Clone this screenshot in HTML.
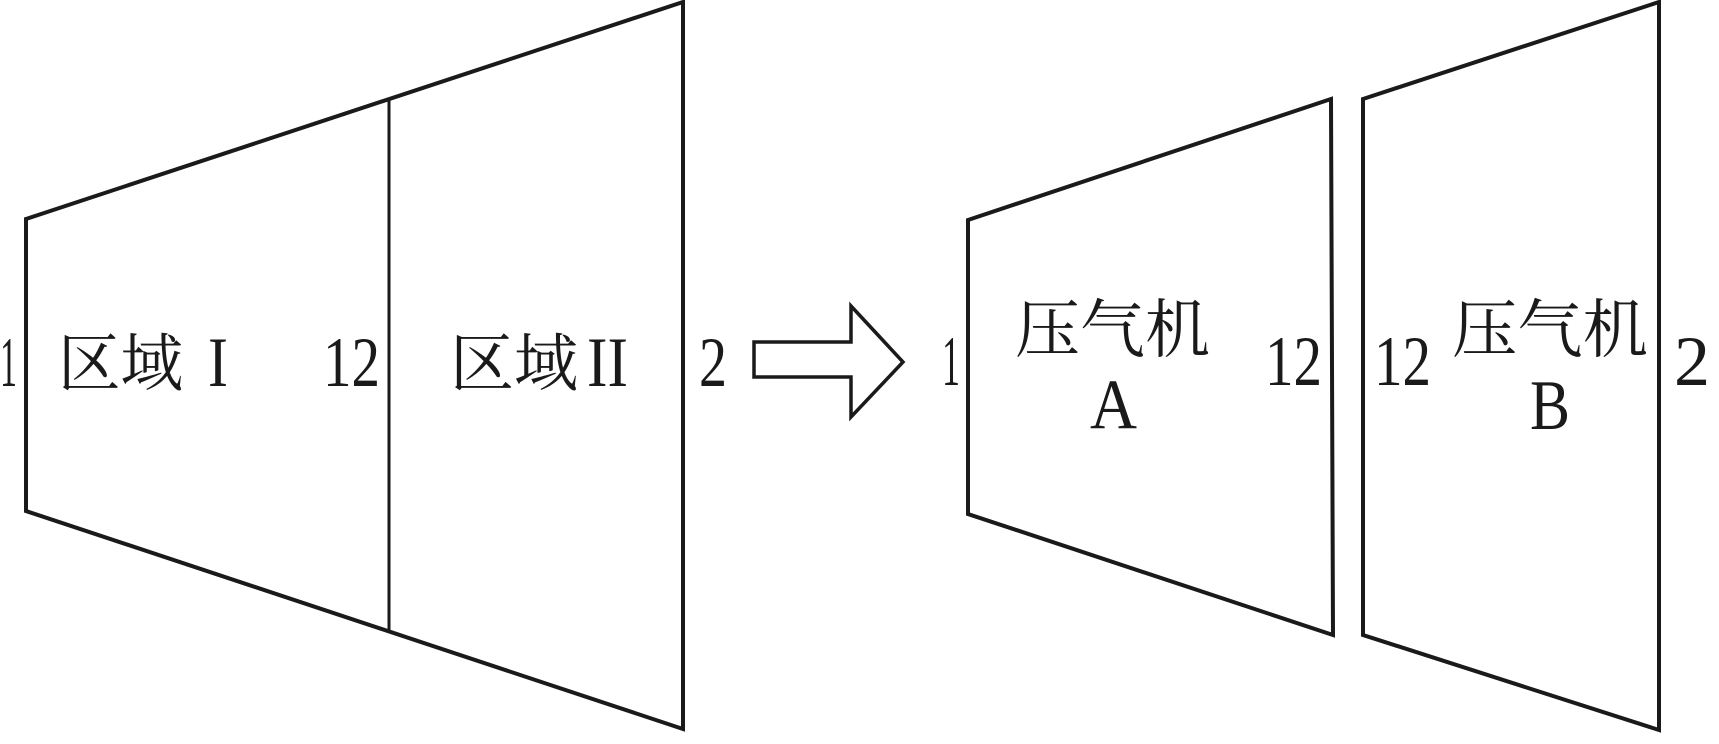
<!DOCTYPE html>
<html><head><meta charset="utf-8"><style>
html,body{margin:0;padding:0;background:#fff;width:1719px;height:744px;overflow:hidden}
text{font-family:"Liberation Serif","Noto Serif CJK SC",serif;fill:#1a1a1a}
</style></head><body>
<svg width="1719" height="744" viewBox="0 0 1719 744" xmlns="http://www.w3.org/2000/svg">
<g fill="none" stroke="#1a1a1a" stroke-width="4" stroke-linejoin="miter">
<polygon points="26,219 683,2 683,729 26,511"/>
<line x1="389" y1="99" x2="389" y2="630" stroke-width="3"/>
<polygon points="754,342 851,342 851,306 903,362 851,417 851,377 754,377" stroke-width="3.5"/>
<polygon points="968,220 1331,99 1333,635 968,514"/>
<polygon points="1363,99 1659,2 1659,730 1363,635"/>
</g>
<g font-size="71">
<text x="0" y="386" textLength="17" lengthAdjust="spacingAndGlyphs">1</text>
<text x="323" y="386" textLength="57" lengthAdjust="spacingAndGlyphs">12</text>
<text x="699" y="386" textLength="28" lengthAdjust="spacingAndGlyphs">2</text>
<text x="942" y="385" textLength="18" lengthAdjust="spacingAndGlyphs">1</text>
<text x="1265" y="385" textLength="57" lengthAdjust="spacingAndGlyphs">12</text>
<text x="1374" y="385" textLength="57" lengthAdjust="spacingAndGlyphs">12</text>
<text x="1674" y="385" textLength="36" lengthAdjust="spacingAndGlyphs">2</text>
<text x="1090" y="428" textLength="47" lengthAdjust="spacingAndGlyphs">A</text>
<text x="1530" y="429" textLength="40" lengthAdjust="spacingAndGlyphs">B</text>
<text x="208" y="386" textLength="20" lengthAdjust="spacingAndGlyphs">I</text>
<text x="587" y="386" textLength="41" lengthAdjust="spacingAndGlyphs">II</text>
</g>
<g font-size="64">
<text x="58" y="386" textLength="125" lengthAdjust="spacingAndGlyphs">区域</text>
<text x="450" y="386" textLength="128" lengthAdjust="spacingAndGlyphs">区域</text>
<text x="1015" y="352" textLength="195" lengthAdjust="spacingAndGlyphs">压气机</text>
<text x="1452" y="352" textLength="196" lengthAdjust="spacingAndGlyphs">压气机</text>
</g>
</svg>
</body></html>
